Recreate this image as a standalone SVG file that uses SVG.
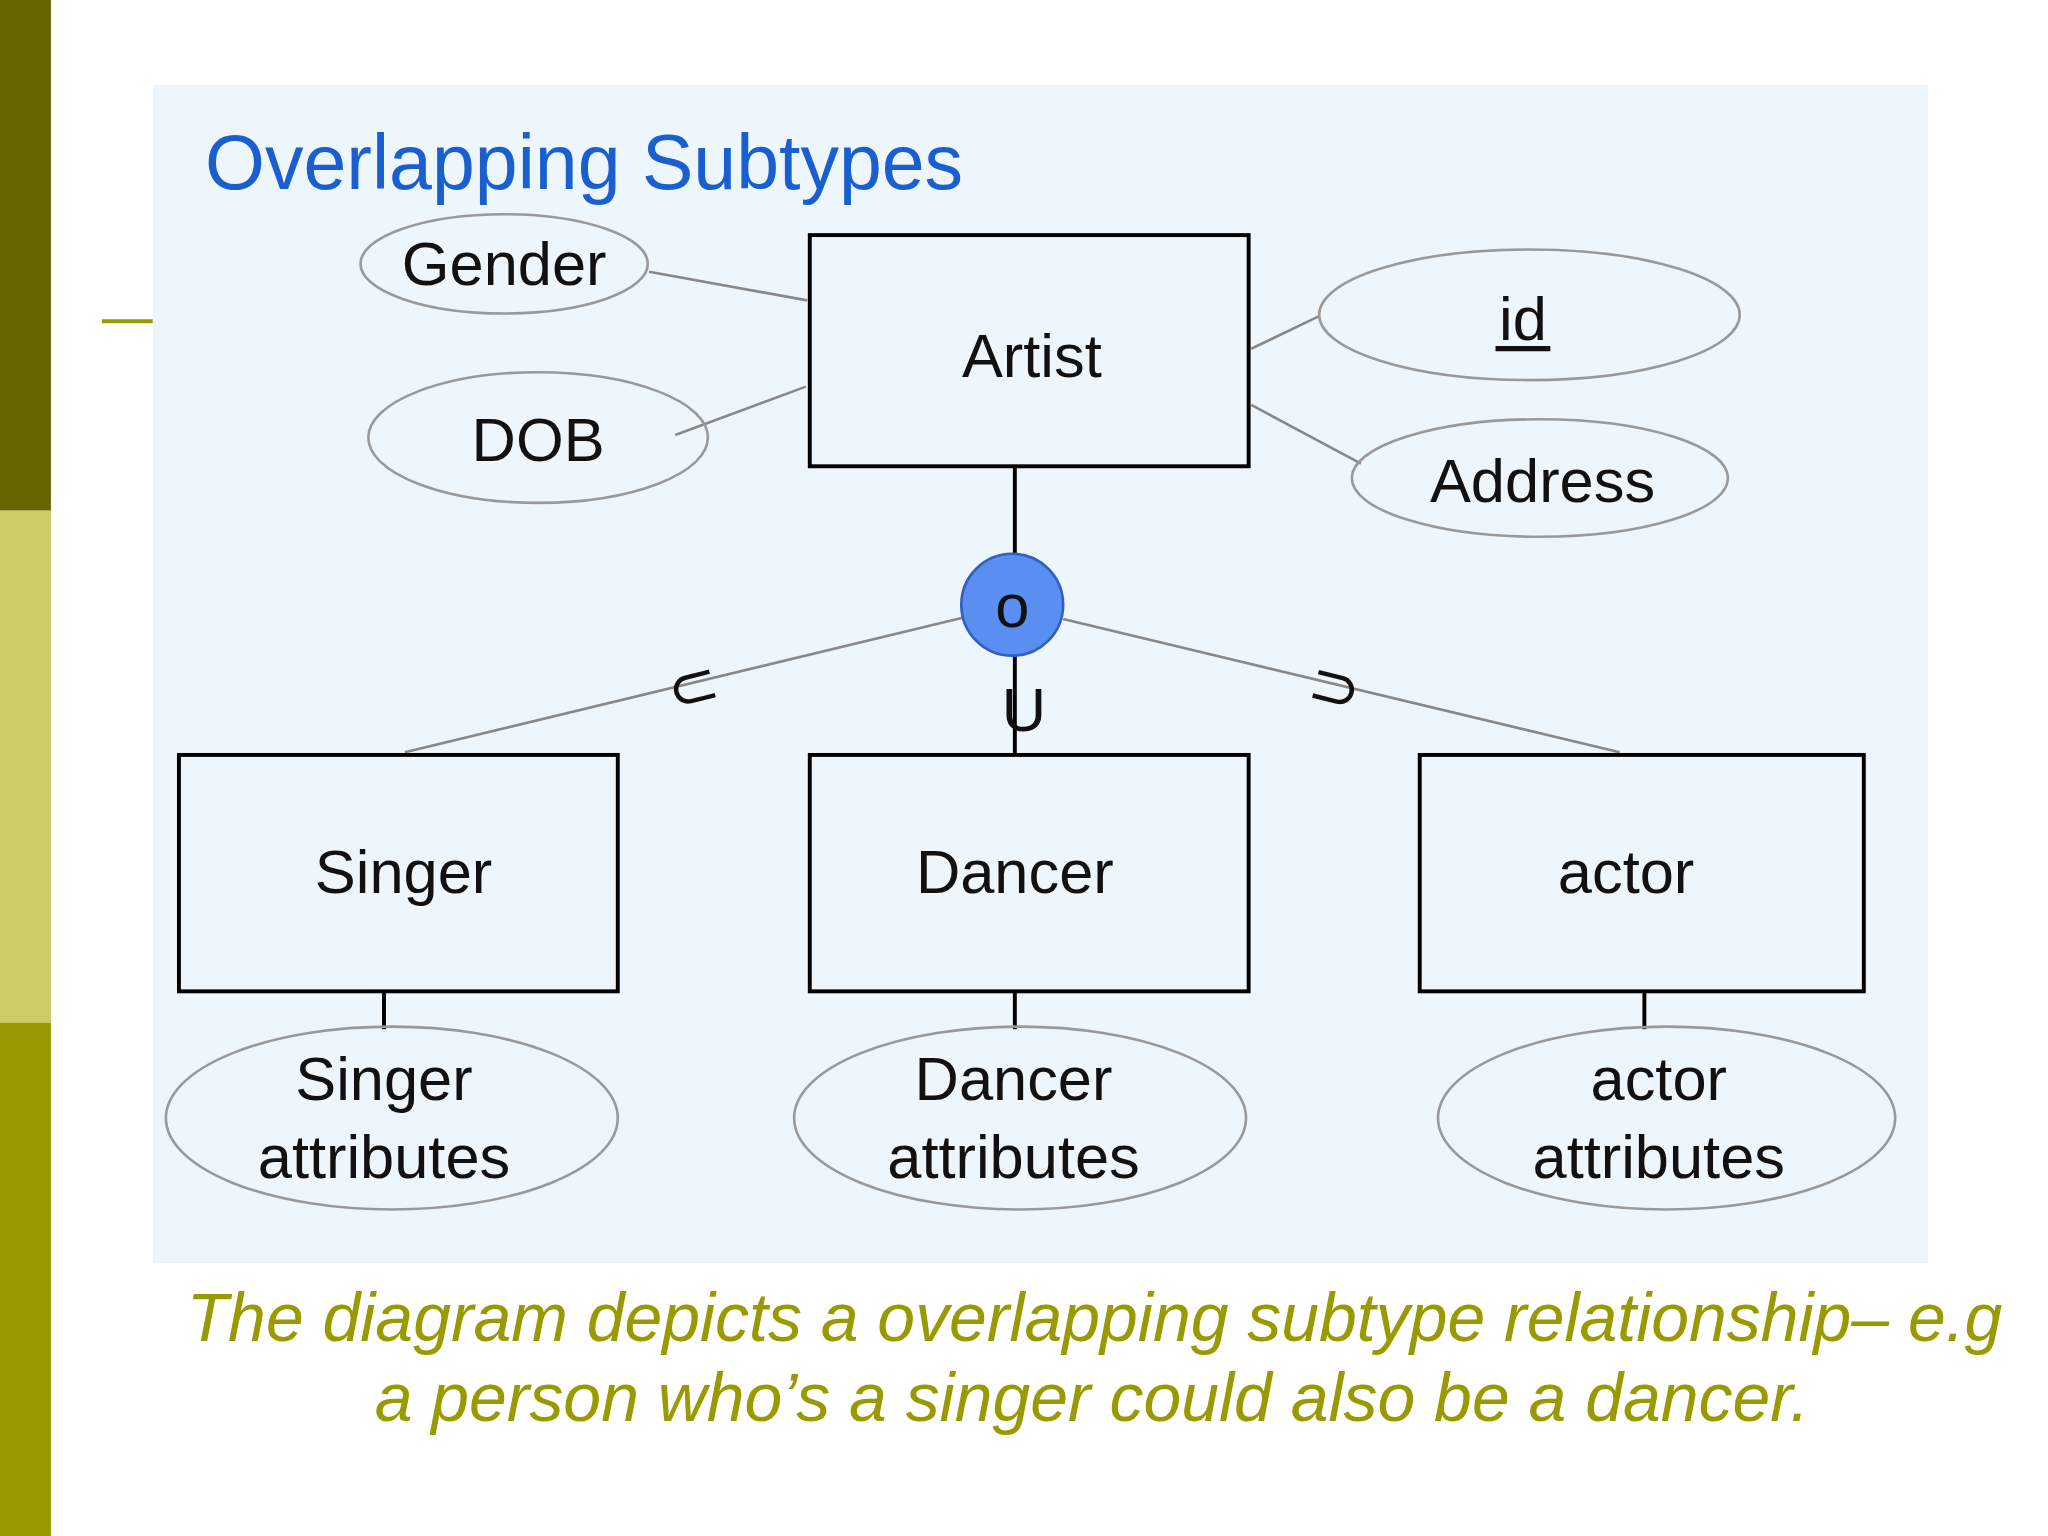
<svg xmlns="http://www.w3.org/2000/svg" width="2048" height="1536" viewBox="0 0 2048 1536">
<style>
.box{fill:none;stroke:#000;stroke-width:3}
.ell{fill:none;stroke:#999;stroke-width:2}
.thin{stroke:#888;stroke-width:2;fill:none}
.thick{stroke:#000;stroke-width:3;fill:none}
text{font-family:"Liberation Sans",Arial,sans-serif;fill:#111;text-anchor:middle}
.lbl{font-size:47px}
.cap{font-size:52px;font-style:italic;fill:#999900}
</style>
<rect width="2048" height="1536" fill="#fff"/>
<g transform="scale(1.3061)">
<rect x="0" y="0" width="39" height="391" fill="#666600"/>
<rect x="0" y="391" width="39" height="392" fill="#cccc66"/>
<rect x="0" y="783" width="39" height="393" fill="#999900"/>
<line x1="78" y1="246" x2="117" y2="246" stroke="#999900" stroke-width="3"/>
<rect x="117" y="65" width="1359" height="902" fill="#eef6fd"/>
<text x="157" y="145" style="font-size:59px;fill:#1a5fd0;text-anchor:start">Overlapping Subtypes</text>
<g id="connectors">
<line class="thin" x1="497" y1="208" x2="618" y2="230"/>
<line class="thin" x1="517" y1="333" x2="617" y2="296"/>
<line class="thin" x1="958" y1="267" x2="1010" y2="242"/>
<line class="thin" x1="958" y1="310" x2="1042" y2="355"/>
<line class="thick" x1="777" y1="357" x2="777" y2="425"/>
<line class="thin" x1="737" y1="473" x2="310" y2="576"/>
<line class="thin" x1="814" y1="474" x2="1240" y2="576"/>
<line class="thick" x1="777" y1="502" x2="777" y2="577"/>
<line class="thick" x1="294" y1="759" x2="294" y2="788"/>
<line class="thick" x1="777" y1="759" x2="777" y2="788"/>
<line class="thick" x1="1259" y1="759" x2="1259" y2="788"/>
<text x="530" y="542" class="lbl" transform="rotate(-14 530 525)">⊂</text>
<text x="1022" y="542" class="lbl" transform="rotate(14 1022 525)">⊃</text>
<text x="784" y="560" class="lbl">U</text>
</g>
<g id="artist"><rect class="box" x="620" y="180" width="336" height="177"/><text x="790" y="289" class="lbl">Artist</text></g>
<g id="gender"><ellipse class="ell" cx="386" cy="202" rx="110" ry="38"/><text x="386" y="218" class="lbl">Gender</text></g>
<g id="dob"><ellipse class="ell" cx="412" cy="335" rx="130" ry="50"/><text x="412" y="353" class="lbl">DOB</text></g>
<g id="id"><ellipse class="ell" cx="1171" cy="241" rx="161" ry="50"/><text x="1166" y="260" class="lbl">id</text><line x1="1145" y1="267" x2="1187" y2="267" stroke="#111" stroke-width="4"/></g>
<g id="address"><ellipse class="ell" cx="1179" cy="366" rx="144" ry="45"/><text x="1181" y="384" class="lbl">Address</text></g>
<g id="overlap"><circle cx="775" cy="463" r="39" fill="#5a8ef0" stroke="#3060c0" stroke-width="2"/><text x="775" y="480" class="lbl">o</text></g>
<g id="singer"><rect class="box" x="137" y="578" width="336" height="181"/><text x="309" y="684" class="lbl">Singer</text></g>
<g id="dancer"><rect class="box" x="620" y="578" width="336" height="181"/><text x="777" y="684" class="lbl">Dancer</text></g>
<g id="actor"><rect class="box" x="1087" y="578" width="340" height="181"/><text x="1245" y="684" class="lbl">actor</text></g>
<g id="singer-attr"><ellipse class="ell" cx="300" cy="856" rx="173" ry="70"/><text x="294" y="842" class="lbl">Singer</text><text x="294" y="902" class="lbl">attributes</text></g>
<g id="dancer-attr"><ellipse class="ell" cx="781" cy="856" rx="173" ry="70"/><text x="776" y="842" class="lbl">Dancer</text><text x="776" y="902" class="lbl">attributes</text></g>
<g id="actor-attr"><ellipse class="ell" cx="1276" cy="856" rx="175" ry="70"/><text x="1270" y="842" class="lbl">actor</text><text x="1270" y="902" class="lbl">attributes</text></g>
<text x="838" y="1027" class="cap">The diagram depicts a overlapping subtype relationship– e.g</text>
<text x="836" y="1088" class="cap">a person who’s a singer could also be a dancer.</text>
</g>
</svg>
